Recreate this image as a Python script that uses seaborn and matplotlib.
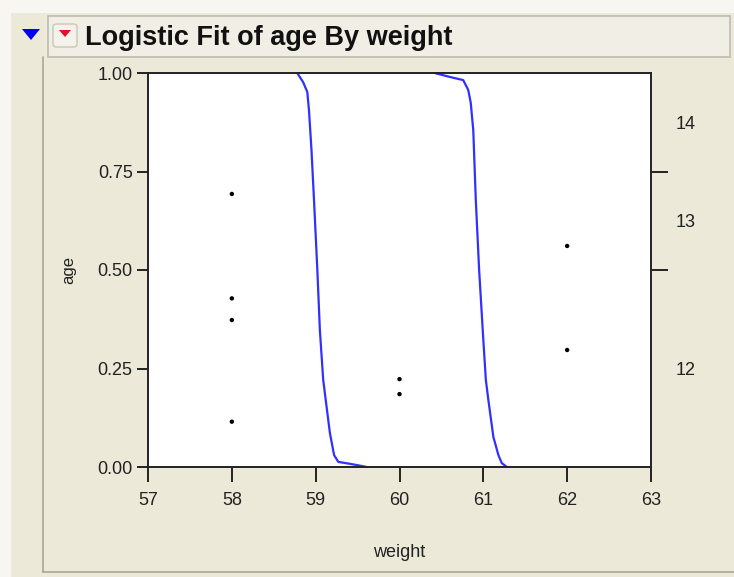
import matplotlib
matplotlib.use("Agg")
import pandas as pd
import matplotlib.pyplot as plt
import seaborn as sns
from matplotlib.patches import Rectangle, Polygon, FancyBboxPatch
from matplotlib.lines import Line2D

# observed points (weight, plotted position on probability scale)
weight_pts = [58, 58, 58, 58, 60, 60, 62, 62]
prob_pts = [0.693, 0.428, 0.373, 0.115, 0.223, 0.185, 0.561, 0.297]

# fitted cumulative probability curves
curve1_w = [58.78, 58.85, 58.90, 58.92, 58.95, 58.98, 59.02, 59.05, 59.09,
            59.12, 59.17, 59.22, 59.27, 59.41, 59.49, 59.61]
curve1_p = [1.0, 0.977, 0.952, 0.906, 0.805, 0.678, 0.5, 0.348, 0.221,
            0.17, 0.086, 0.03, 0.013, 0.008, 0.005, 0.0]
curve2_w = [60.42, 60.60, 60.76, 60.82, 60.85, 60.88, 60.91, 60.95, 61.00,
            61.03, 61.06, 61.12, 61.18, 61.22, 61.28]
curve2_p = [1.0, 0.99, 0.982, 0.957, 0.924, 0.855, 0.678, 0.5, 0.322,
            0.221, 0.17, 0.076, 0.03, 0.01, 0.0]

age_levels = ["12", "13", "14"]
age_cuts = [0.5, 0.75]
x_ticks = [57, 58, 59, 60, 61, 62, 63]
y_ticks = [0.0, 0.25, 0.5, 0.75, 1.0]

sns.set_style("white")
plt.rcParams['font.family'] = ['Liberation Sans', 'DejaVu Sans']

W, H = 734, 577
def px(x, y):
    return (x / W, 1 - y / H)

BG = "#ECE9D8"
fig = plt.figure(figsize=(W / 100, H / 100), dpi=100, facecolor=BG)

# window chrome
fig.patches.append(Rectangle(px(0, H), 11 / W, 1, transform=fig.transFigure,
                             facecolor="#F7F6F1", edgecolor="none"))
fig.patches.append(Rectangle(px(0, 13), 1, 13 / H, transform=fig.transFigure,
                             facecolor="#F7F6F1", edgecolor="none"))
fig.lines.append(Line2D([43 / W, 43 / W], [1 - 57 / H, 1 - 572 / H],
                        transform=fig.transFigure, color="#A9A79A", lw=1.2))
fig.lines.append(Line2D([43 / W, 1], [1 - 572 / H, 1 - 572 / H],
                        transform=fig.transFigure, color="#A9A79A", lw=1.2))
fig.patches.append(Rectangle(px(48, 57), 682 / W, 41 / H, transform=fig.transFigure,
                             facecolor="#F1EFE5", edgecolor="#BEBCAE", lw=1.2))
fig.patches.append(Polygon([px(22, 29), px(40, 29), px(31, 40)], closed=True,
                           transform=fig.transFigure, facecolor="#0000EE",
                           edgecolor="none"))
fig.patches.append(FancyBboxPatch(px(53, 47), 24 / W, 23 / H,
                                  boxstyle="round,pad=0,rounding_size=0.005",
                                  transform=fig.transFigure, facecolor="#F4F2EA",
                                  edgecolor="#C9C6B8", lw=1))
fig.patches.append(Polygon([px(59, 30), px(71, 30), px(65, 37)], closed=True,
                           transform=fig.transFigure, facecolor="#E0102A",
                           edgecolor="none"))
fig.text(85 / W, 1 - 38 / H, "Logistic Fit of age By weight", fontsize=19.5,
         fontweight="bold", va="center", ha="left", color="#111111")

ax = fig.add_axes([148 / W, 1 - 467 / H, (651 - 148) / W, (467 - 73) / H])
ax.set_facecolor("white")

pts = pd.DataFrame({"weight": weight_pts, "age": prob_pts})
curves = pd.concat([
    pd.DataFrame({"weight": curve1_w, "p": curve1_p, "cut": "12"}),
    pd.DataFrame({"weight": curve2_w, "p": curve2_p, "cut": "13"}),
])

sns.lineplot(data=curves, x="weight", y="p", units="cut", estimator=None,
             sort=False, color="#3030FF", lw=1.6, ax=ax, clip_on=False)
sns.scatterplot(data=pts, x="weight", y="age", color="black", s=10,
                edgecolor="none", ax=ax)

ax.set_xlim(57, 63)
ax.set_ylim(0, 1)
ax.set_xticks(x_ticks)
ax.set_xticklabels([str(t) for t in x_ticks])
ax.set_yticks(y_ticks)
ax.set_yticklabels([f"{t:.2f}" for t in y_ticks])
ax.tick_params(axis="both", labelsize=13, colors="#222222", width=1.4,
               direction="out", left=True, bottom=True)
ax.tick_params(axis="x", length=11, pad=7)
ax.tick_params(axis="y", length=8, pad=3)
for sp in ax.spines.values():
    sp.set_color("#222222")
    sp.set_linewidth(1.4)
ax.set_xlabel("weight", fontsize=13, labelpad=25, color="#222222")
ax.set_ylabel("age", fontsize=12, color="#222222")
ax.yaxis.set_label_coords(-0.142, 0.5)

# right-hand axis showing age levels
ax2 = ax.twinx()
ax2.set_ylim(0, 1)
ax2.set_yticks(age_cuts)
ax2.set_yticklabels([])
bounds = [0.0] + age_cuts + [1.0]
mids = [(bounds[i] + bounds[i + 1]) / 2 for i in range(len(age_levels))]
ax2.set_yticks(mids, minor=True)
ax2.set_yticklabels(age_levels, minor=True)
ax2.tick_params(axis="y", which="major", length=12, width=1.4, colors="#222222")
ax2.tick_params(axis="y", which="minor", length=0, pad=18, labelsize=13,
                labelcolor="#222222")
for sp in ax2.spines.values():
    sp.set_visible(False)

fig.savefig("out.png", dpi=100, facecolor=BG)
